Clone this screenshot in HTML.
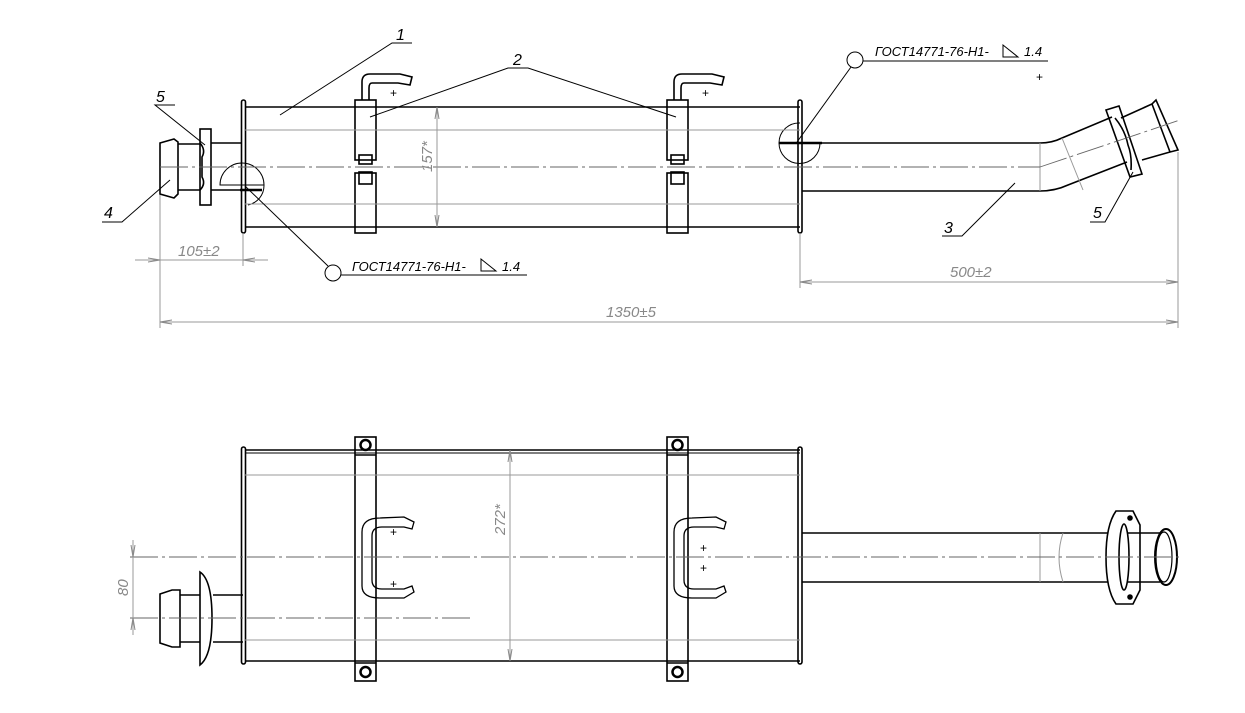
<!DOCTYPE html>
<html><head><meta charset="utf-8"><style>
html,body{margin:0;padding:0;background:#fff;}
svg{display:block;}
text{font-family:"Liberation Sans",sans-serif;font-style:italic;}
</style></head><body>
<svg width="1245" height="713" viewBox="0 0 1245 713" xmlns="http://www.w3.org/2000/svg">
<defs>
<marker id="ar" markerWidth="12" markerHeight="6" refX="12" refY="3" orient="auto-start-reverse" markerUnits="userSpaceOnUse"><path d="M0,1 L12,3 L0,5" fill="none" stroke="#888" stroke-width="1"/></marker>
</defs>
<g fill="none" stroke="#000" stroke-width="1.6">
<line x1="245" y1="107" x2="800" y2="107"/>
<line x1="245" y1="227" x2="800" y2="227"/>
<rect x="241.5" y="100" width="4" height="133" rx="2"/>
<rect x="798" y="100" width="4" height="133" rx="2"/>
<line x1="211" y1="143" x2="242" y2="143"/>
<line x1="211" y1="190" x2="242" y2="190"/>
<rect x="200" y="129" width="11" height="76"/>
<path d="M200,143 Q206,150 202,157 L202,177 Q206,184 200,190"/>
<path d="M160,143 L174,139 L178,142 L178,194 L174,198 L160,194 Z"/>
<line x1="178" y1="144" x2="200" y2="144"/>
<line x1="178" y1="190" x2="200" y2="190"/>
<rect x="355" y="100" width="21" height="60"/>
<rect x="355" y="173" width="21" height="60"/>
<rect x="359" y="155" width="13" height="9"/><rect x="359" y="172" width="13" height="12"/>
<rect x="667" y="100" width="21" height="60"/>
<rect x="667" y="173" width="21" height="60"/>
<rect x="671" y="155" width="13" height="9"/><rect x="671" y="172" width="13" height="12"/>
<path d="M362,100 L362,82 Q362,74 370,74 L400,74 L412,77 L410,85 L398,83 L372,83 Q369,83 369,88 L369,100"/>
<path d="M674,100 L674,82 Q674,74 682,74 L712,74 L724,77 L722,85 L710,83 L684,83 Q681,83 681,88 L681,100"/>
<path d="M802,143 L1040,143 Q1052,143 1062,138 L1112,117"/>
<path d="M802,191 L1040,191 Q1055,191 1068,185 L1127,162"/>
<path d="M1106,110 L1119,106 L1142,174 L1130,177 Z"/>
<path d="M1121,118 L1152,104 L1156,100 L1178,150 L1170,152 L1142,160"/>
<line x1="1152" y1="104" x2="1170" y2="152"/>
<path d="M1115,118 Q1125,130 1128,145 Q1132,155 1131,170"/>
<path d="M220,185 A22,22 0 0 1 264,185 Z" stroke-width="1"/>
<path d="M244,185 L264,185 A20,20 0 0 1 248,205" stroke-width="1"/>
<path d="M779,143 A20,20 0 0 1 800,123" stroke-width="1"/>
<path d="M779,143 A20,20 0 0 0 820,143" stroke-width="1"/>
<line x1="779" y1="143" x2="822" y2="143" stroke-width="2.5"/>
<line x1="240" y1="190" x2="262" y2="190" stroke-width="2.5"/>

<line x1="245" y1="450" x2="800" y2="450"/>
<line x1="245" y1="661" x2="800" y2="661"/>
<line x1="245" y1="453" x2="800" y2="453" stroke-width="1"/>
<rect x="241.5" y="447" width="4" height="217" rx="2"/>
<rect x="798" y="447" width="4" height="217" rx="2"/>
<rect x="355" y="437" width="21" height="244"/>
<rect x="667" y="437" width="21" height="244"/>
<line x1="355" y1="455" x2="376" y2="455"/><line x1="355" y1="663" x2="376" y2="663"/>
<line x1="667" y1="455" x2="688" y2="455"/><line x1="667" y1="663" x2="688" y2="663"/>
<circle cx="365.5" cy="445" r="5" stroke-width="2.5"/><circle cx="365.5" cy="672" r="5" stroke-width="2.5"/>
<circle cx="677.5" cy="445" r="5" stroke-width="2.5"/><circle cx="677.5" cy="672" r="5" stroke-width="2.5"/>
<path d="M404,517 L380,518 Q362,518 362,532 L362,586 Q362,598 380,598 L404,598 L414,592 L412,586 L404,589 L382,589 Q372,589 372,580 L372,536 Q372,527 382,527 L404,527 L412,529 L414,522 Z" stroke-width="1.3"/>
<path d="M716,517 L692,518 Q674,518 674,532 L674,586 Q674,598 692,598 L716,598 L726,592 L724,586 L716,589 L694,589 Q684,589 684,580 L684,536 Q684,527 694,527 L716,527 L724,529 L726,522 Z" stroke-width="1.3"/>
<line x1="213" y1="595" x2="243" y2="595"/><line x1="213" y1="642" x2="243" y2="642"/>
<path d="M200,572 Q212,580 212,618 Q212,656 200,665 Z"/>
<path d="M160,594 L172,590 L180,590 L180,647 L172,647 L160,643 Z"/>
<line x1="180" y1="595" x2="200" y2="595"/><line x1="180" y1="642" x2="200" y2="642"/>
<line x1="802" y1="533" x2="1108" y2="533"/>
<line x1="802" y1="582" x2="1108" y2="582"/>
<path d="M1116,511 L1133,511 L1140,525 L1140,590 L1133,604 L1116,604 Q1106,590 1106,557 Q1106,525 1116,511 Z"/>
<ellipse cx="1124" cy="557" rx="5" ry="33"/>
<line x1="1128" y1="533" x2="1160" y2="533"/><line x1="1128" y1="582" x2="1160" y2="582"/>
<ellipse cx="1166" cy="557" rx="11" ry="28" stroke-width="2"/>
<ellipse cx="1164" cy="557" rx="8" ry="25" stroke-width="1.2"/>
<circle cx="1130" cy="518" r="2" fill="#000"/><circle cx="1130" cy="597" r="2" fill="#000"/>
</g>

<g fill="none" stroke="#999" stroke-width="1">
<line x1="245" y1="130" x2="800" y2="130"/><line x1="245" y1="204" x2="800" y2="204"/>
<line x1="245" y1="475" x2="800" y2="475"/><line x1="245" y1="640" x2="800" y2="640"/>
<line x1="1040" y1="143" x2="1040" y2="191"/>
<line x1="1062" y1="138" x2="1083" y2="190"/>
<line x1="1040" y1="533" x2="1040" y2="582"/>
<path d="M1063,533 Q1055,557 1063,582"/>
</g>
<g fill="none" stroke="#666" stroke-width="0.9" stroke-dasharray="28,4,3,4">
<line x1="160" y1="167" x2="1040" y2="167"/>
<line x1="1040" y1="167" x2="1180" y2="120"/>
<line x1="130" y1="557" x2="1180" y2="557"/>
<line x1="130" y1="618" x2="470" y2="618"/>
</g>
<g fill="none" stroke="#999" stroke-width="1">
<line x1="160" y1="195" x2="160" y2="328"/>
<line x1="243" y1="233" x2="243" y2="266"/>
<line x1="800" y1="233" x2="800" y2="288"/>
<line x1="1178" y1="152" x2="1178" y2="328"/>
<line x1="135" y1="260" x2="160" y2="260" marker-end="url(#ar)"/>
<line x1="268" y1="260" x2="243" y2="260" marker-end="url(#ar)"/>
<line x1="160" y1="260" x2="243" y2="260"/>
<line x1="800" y1="282" x2="1178" y2="282" marker-start="url(#ar)" marker-end="url(#ar)"/>
<line x1="160" y1="322" x2="1178" y2="322" marker-start="url(#ar)" marker-end="url(#ar)"/>
<line x1="437" y1="107" x2="437" y2="227" marker-start="url(#ar)" marker-end="url(#ar)"/>
<line x1="510" y1="450" x2="510" y2="661" marker-start="url(#ar)" marker-end="url(#ar)"/>
<line x1="133" y1="540" x2="133" y2="557" marker-end="url(#ar)"/>
<line x1="133" y1="635" x2="133" y2="618" marker-end="url(#ar)"/>
<line x1="133" y1="557" x2="133" y2="618"/>
</g>
<g fill="#888" font-size="15">
<text x="178" y="256">105±2</text>
<text x="950" y="277">500±2</text>
<text x="606" y="317">1350±5</text>
<text transform="translate(432,172) rotate(-90)">157*</text>
<text transform="translate(505,535) rotate(-90)">272*</text>
<text transform="translate(128,596) rotate(-90)">80</text>
</g>
<g fill="none" stroke="#000" stroke-width="1">
<polyline points="280,115 392,43 412,43"/>
<polyline points="370,117 508,68 528,68 676,117"/>
<polyline points="205,145 155,105 175,105"/>
<polyline points="170,180 122,222 102,222"/>
<polyline points="1015,183 962,236 942,236"/>
<polyline points="1133,172 1105,222 1090,222"/>
<circle cx="333" cy="273" r="8"/>
<line x1="341" y1="275" x2="527" y2="275"/>
<line x1="328" y1="266" x2="245" y2="186"/>
<circle cx="855" cy="60" r="8"/>
<line x1="863" y1="61" x2="1048" y2="61"/>
<line x1="851" y1="67" x2="797" y2="142"/>
<path d="M481,259 L481,271 L496,271 Z"/>
<path d="M1003,45 L1003,57 L1018,57 Z"/>
</g>
<g fill="#000" font-size="16">
<text x="396" y="40">1</text>
<text x="513" y="65">2</text>
<text x="156" y="102">5</text>
<text x="104" y="218">4</text>
<text x="944" y="233">3</text>
<text x="1093" y="218">5</text>
</g>
<g fill="#000" font-size="13">
<text x="352" y="271">ГОСТ14771-76-Н1-</text>
<text x="502" y="271">1.4</text>
<text x="875" y="56">ГОСТ14771-76-Н1-</text>
<text x="1024" y="56">1.4</text>
</g>
<g fill="#000" font-size="12" style="font-style:normal">
<text x="1036" y="81" style="font-style:normal">+</text>
<text x="390" y="97" style="font-style:normal">+</text>
<text x="702" y="97" style="font-style:normal">+</text>
<text x="390" y="536" style="font-style:normal">+</text>
<text x="390" y="588" style="font-style:normal">+</text>
<text x="700" y="552" style="font-style:normal">+</text>
<text x="700" y="572" style="font-style:normal">+</text>
</g>
</svg>
</body></html>
